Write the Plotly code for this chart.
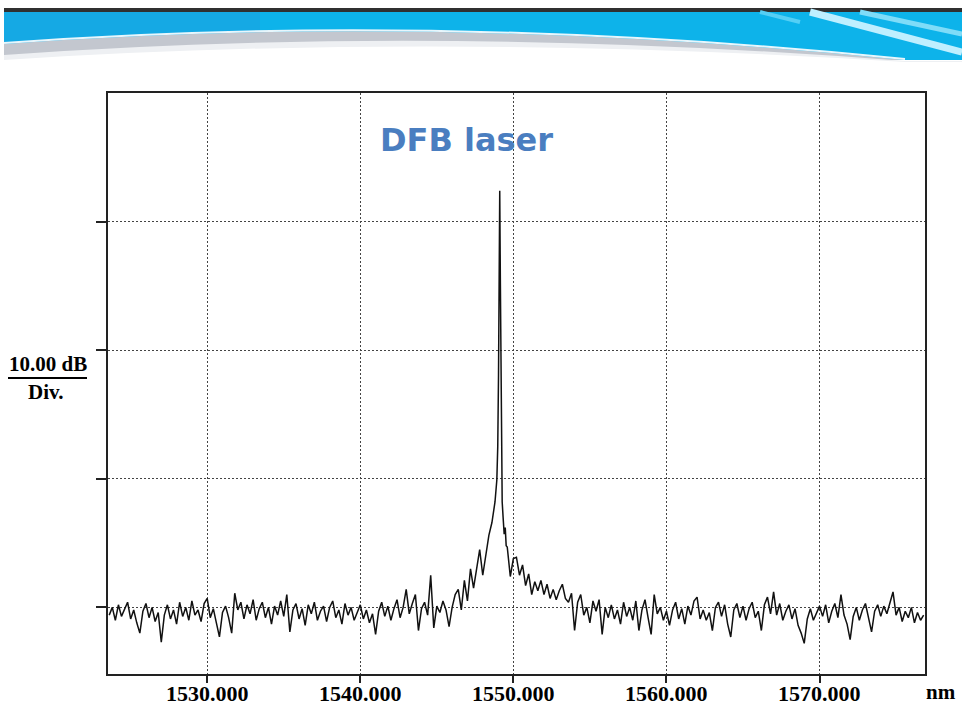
import numpy as np
import plotly.graph_objects as go

# ---------------- data ----------------
step_nm = 0.2
left_start_nm = 1523.6
left_power_db = [
    -40.6, -40.0, -41.0, -39.8, -40.7, -40.1, -39.6, -40.9, -40.2, -41.2,
    -42.0, -40.3, -39.7, -40.8, -40.0, -41.1, -40.4, -42.7, -40.6, -39.8,
    -40.9, -40.2, -41.3, -39.6, -40.7, -40.0, -41.0, -39.5, -40.6, -40.2,
    -41.1, -39.7, -39.3, -40.8, -40.1, -41.2, -42.3, -40.4, -39.9, -40.8,
    -42.0, -38.9, -40.2, -39.6, -40.9, -39.8, -40.5, -39.4, -41.0, -40.1,
    -39.6, -40.8, -40.0, -41.3, -39.9, -40.6, -39.5, -40.7, -39.0, -41.9,
    -40.2, -39.7, -40.9, -40.1, -41.4, -39.8, -40.5, -39.6, -41.0, -40.3,
    -39.9, -41.1, -40.0, -39.5, -40.8, -40.2, -41.3, -39.7, -40.6, -40.0,
    -41.0, -40.4, -39.8, -40.9, -40.2, -41.2, -40.5, -42.1, -40.3, -39.6,
    -40.7, -39.9, -41.0, -40.1, -39.4, -40.8, -40.0, -38.6, -40.5, -39.7,
    -39.0, -41.8, -40.1, -39.6, -40.6, -37.5, -41.6, -39.9, -40.4, -39.5,
    -40.2, -41.5, -40.0, -39.0, -38.6, -40.2, -37.9, -39.5, -37.0, -38.5,
    -36.8, -35.5, -37.5, -35.8, -34.4, -33.4, -31.8,
]
peak_wavelength_nm = [1548.92, 1548.98, 1549.03, 1549.07, 1549.11, 1549.15,
                      1549.19, 1549.23, 1549.27, 1549.33, 1549.40, 1549.47, 1549.53]
peak_power_db = [-30.1, -27.5, -22.0, -14.0, -7.6, -14.5,
                 -23.0, -29.0, -31.8, -33.0, -34.3, -33.8, -35.2]
right_start_nm = 1549.6
right_power_db = [
    -35.3, -37.6, -36.2, -36.1, -37.5, -36.7, -38.3, -37.4, -39.0, -38.0,
    -38.7, -37.9, -39.0, -38.2, -39.3, -38.6, -39.4, -38.7, -38.2, -39.3,
    -39.6, -38.9, -41.8, -39.6, -39.0, -40.6, -40.0, -41.2, -39.5, -40.3,
    -39.4, -42.1, -40.0, -40.8, -39.8, -40.9, -40.2, -41.3, -39.6, -40.7,
    -40.0, -41.0, -39.5, -41.8, -40.2, -39.4, -40.8, -42.1, -39.0, -40.5,
    -40.0, -41.0, -40.3, -41.4, -40.2, -39.6, -40.9, -40.1, -41.3, -39.9,
    -40.6, -39.5, -39.2, -40.9, -40.2, -41.0, -40.4, -41.8, -40.0, -39.6,
    -40.7, -39.8, -41.3, -42.3, -40.2, -39.7, -40.8, -39.9, -41.0, -40.1,
    -39.6, -40.8, -40.3, -41.8, -39.8, -39.2, -40.5, -38.8, -40.6, -39.7,
    -41.0, -40.3, -39.8, -40.9, -40.1, -41.4, -42.0, -42.8, -40.9, -40.1,
    -41.0, -40.4, -39.9, -40.7, -39.8, -41.2, -40.3, -39.7, -40.8, -39.0,
    -40.6, -41.3, -42.5, -40.7, -40.0, -41.0, -40.2, -39.7, -40.9, -41.9,
    -40.3, -39.8, -40.7, -39.9, -40.5, -39.6, -38.8, -40.6, -40.0, -41.1,
    -40.3, -40.8, -40.0, -41.2, -40.4, -41.0, -40.6,
]

x_tick_values = [1530, 1540, 1550, 1560, 1570]
x_tick_text = ["1530.000", "1540.000", "1550.000", "1560.000", "1570.000"]
y_tick_values = [-10, -20, -30, -40]
x_range = [1523.52, 1576.89]
y_range = [-45.18, 0.0]

# ---------------- build series ----------------
left_wl = [round(left_start_nm + step_nm * i, 3) for i in range(len(left_power_db))]
right_wl = [round(right_start_nm + step_nm * i, 3) for i in range(len(right_power_db))]
wavelength = left_wl + peak_wavelength_nm + right_wl
power = left_power_db + peak_power_db + right_power_db

# ---------------- figure ----------------
W, H = 962, 710
ML, MR, MT, MB = 108, 37, 93, 36
PW, PH = W - ML - MR, H - MT - MB


def px(x):
    return (x - ML) / PW


def py(y):
    return (H - MB - y) / PH


fig = go.Figure()
fig.add_trace(go.Scatter(
    x=wavelength, y=power, mode="lines",
    line=dict(color="#111111", width=1.5),
    hoverinfo="skip", showlegend=False,
))

serif = "Liberation Serif, Times New Roman, serif"

fig.update_layout(
    width=W, height=H,
    margin=dict(l=ML, r=MR, t=MT, b=MB, pad=0, autoexpand=False),
    paper_bgcolor="white", plot_bgcolor="white",
    showlegend=False,
    xaxis=dict(
        range=x_range, tickmode="array", tickvals=x_tick_values,
        showticklabels=False,
        showgrid=True, gridcolor="#444444", gridwidth=1, griddash="2px,2px",
        showline=True, linecolor="#222222", linewidth=1.5, mirror=True,
        ticks="outside", ticklen=7, tickcolor="#222222", tickwidth=1.5,
        zeroline=False, automargin=False,
    ),
    yaxis=dict(
        range=y_range, tickmode="array", tickvals=y_tick_values,
        showticklabels=False,
        showgrid=True, gridcolor="#444444", gridwidth=1, griddash="2px,2px",
        showline=True, linecolor="#222222", linewidth=1.5, mirror=True,
        ticks="outside", ticklen=10, tickcolor="#222222", tickwidth=1.5,
        zeroline=False, automargin=False,
    ),
)

# ---------------- header banner ----------------
shapes = []
shapes.append(dict(type="rect", xref="paper", yref="paper",
                   x0=px(4), x1=px(962), y0=py(60), y1=py(12),
                   fillcolor="#0db3ea", line=dict(width=0), layer="above"))
shapes.append(dict(type="rect", xref="paper", yref="paper",
                   x0=px(4), x1=px(260), y0=py(60), y1=py(12),
                   fillcolor="#1aa2e0", opacity=0.6, line=dict(width=0), layer="above"))
shapes.append(dict(type="rect", xref="paper", yref="paper",
                   x0=px(4), x1=px(962), y0=py(12), y1=py(8),
                   fillcolor="#303030", line=dict(width=0), layer="above"))
for (xa, ya, xb, yb, c, w) in [(810, 12, 962, 52, "#bfefff", 7), (860, 12, 962, 34, "#7fdcf8", 5),
                               (760, 12, 800, 22, "#55cff5", 4)]:
    shapes.append(dict(type="line", xref="paper", yref="paper",
                       x0=px(xa), y0=py(ya), x1=px(xb), y1=py(yb),
                       line=dict(color=c, width=w), layer="above"))


def P(x, y):
    return f"{px(x):.5f},{py(y):.5f}"


grey_path = (f"M {P(4, 44)} Q {P(430, 12)} {P(905, 60)} L {P(4, 60)} Z")
shapes.append(dict(type="path", xref="paper", yref="paper", path=grey_path,
                   fillcolor="#c3c7cf", line=dict(width=0), layer="above"))
hl_path = f"M {P(4, 43)} Q {P(430, 11)} {P(905, 59)}"
shapes.append(dict(type="path", xref="paper", yref="paper", path=hl_path,
                   line=dict(color="#e8f6fc", width=2), layer="above"))
white_path = (f"M {P(4, 55)} Q {P(430, 24)} {P(905, 61)} L {P(962, 61)} L {P(962, 70)} "
              f"L {P(4, 70)} Z")
shapes.append(dict(type="path", xref="paper", yref="paper", path=white_path,
                   fillcolor="#eef0f3", line=dict(width=0), layer="above"))
white_path2 = (f"M {P(4, 60)} Q {P(430, 32)} {P(905, 62)} L {P(962, 62)} L {P(962, 72)} "
               f"L {P(4, 72)} Z")
shapes.append(dict(type="path", xref="paper", yref="paper", path=white_path2,
                   fillcolor="white", line=dict(width=0), layer="above"))

shapes.append(dict(type="line", xref="paper", yref="paper",
                   x0=px(8), x1=px(87), y0=py(378), y1=py(378),
                   line=dict(color="black", width=2)))

fig.update_layout(shapes=shapes)

annotations = [
    dict(text="<b>DFB laser</b>", x=px(466), y=py(140), xref="paper", yref="paper",
         showarrow=False, xanchor="center", yanchor="middle",
         font=dict(family="DejaVu Sans", size=32, color="#4a7ec0")),
    dict(text="<b>10.00 dB</b>", x=px(48), y=py(364), xref="paper", yref="paper",
         showarrow=False, xanchor="center", yanchor="middle",
         font=dict(family=serif, size=21, color="black")),
    dict(text="<b>Div.</b>", x=px(46), y=py(392), xref="paper", yref="paper",
         showarrow=False, xanchor="center", yanchor="middle",
         font=dict(family=serif, size=21, color="black")),
    dict(text="<b>nm</b>", x=px(941), y=py(692), xref="paper", yref="paper",
         showarrow=False, xanchor="center", yanchor="middle",
         font=dict(family=serif, size=21, color="black")),
]
# x tick labels placed under the axis ticks
for v, t in zip(x_tick_values, x_tick_text):
    annotations.append(dict(text=f"<b>{t}</b>", x=v, y=py(693), xref="x", yref="paper",
                            showarrow=False, xanchor="center", yanchor="middle",
                            font=dict(family=serif, size=22, color="black")))
fig.update_layout(annotations=annotations)

fig.write_html("out.html", config={"displayModeBar": False},
               post_script="document.body.style.margin='0px';")
